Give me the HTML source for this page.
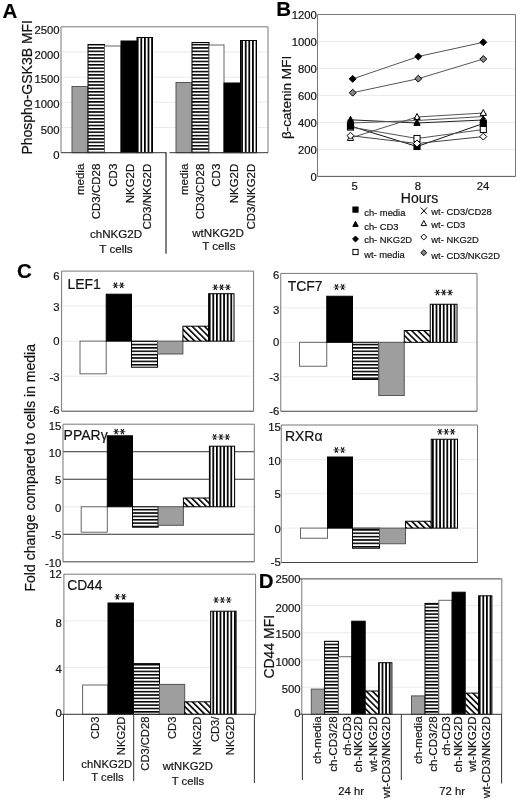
<!DOCTYPE html><html><head><meta charset="utf-8"><title>Figure</title><style>html,body{margin:0;padding:0;background:#fff;overflow:hidden;width:520px;height:803px;}svg{display:block;will-change:transform;}text{font-family:"Liberation Sans",sans-serif;stroke:#1a1a1a;stroke-width:0.2px;}</style></head><body>
<svg width="520" height="803" viewBox="0 0 520 803">
<defs><pattern id="ph" patternUnits="userSpaceOnUse" width="8" height="3.37"><rect width="8" height="3.37" fill="#fff"/><rect y="0" width="8" height="1.55" fill="#000"/></pattern><pattern id="pv" patternUnits="userSpaceOnUse" width="3.6" height="8"><rect width="3.6" height="8" fill="#fff"/><rect x="0" width="1.75" height="8" fill="#000"/></pattern><pattern id="pd" patternUnits="userSpaceOnUse" width="4.35" height="4.35" patternTransform="rotate(-45)"><rect width="4.35" height="4.35" fill="#fff"/><rect x="0" width="1.6" height="4.35" fill="#000"/></pattern></defs>
<rect width="520" height="803" fill="#fff"/>
<text x="2.5" y="17.5" font-size="20.5" text-anchor="start" font-weight="bold" fill="#000" >A</text>
<line x1="61" y1="127.52" x2="268" y2="127.52" stroke="#ebebeb" stroke-width="1"/>
<line x1="61" y1="102.34" x2="268" y2="102.34" stroke="#ebebeb" stroke-width="1"/>
<line x1="61" y1="77.16" x2="268" y2="77.16" stroke="#ebebeb" stroke-width="1"/>
<line x1="61" y1="51.98" x2="268" y2="51.98" stroke="#ebebeb" stroke-width="1"/>
<line x1="61" y1="26.8" x2="268" y2="26.8" stroke="#777" stroke-width="1"/>
<line x1="268" y1="26.8" x2="268" y2="152.7" stroke="#777" stroke-width="1"/>
<line x1="61" y1="26.8" x2="61" y2="152.7" stroke="#777" stroke-width="1"/>
<rect x="72" y="86.5" width="16" height="66.2" fill="#9e9e9e" stroke="#555" stroke-width="1"/>
<rect x="88" y="44.5" width="16.5" height="108.2" fill="url(#ph)" stroke="#000" stroke-width="1"/>
<rect x="104.5" y="46" width="16.5" height="106.7" fill="#fff" stroke="#666" stroke-width="1"/>
<rect x="121" y="41" width="16" height="111.7" fill="#000" stroke="#000" stroke-width="1"/>
<rect x="137" y="37.5" width="15.5" height="115.2" fill="url(#pv)" stroke="#000" stroke-width="1"/>
<rect x="176" y="82.5" width="16" height="70.2" fill="#9e9e9e" stroke="#555" stroke-width="1"/>
<rect x="192" y="42.5" width="17" height="110.2" fill="url(#ph)" stroke="#000" stroke-width="1"/>
<rect x="209" y="45" width="15" height="107.7" fill="#fff" stroke="#666" stroke-width="1"/>
<rect x="224" y="83" width="16.5" height="69.7" fill="#000" stroke="#000" stroke-width="1"/>
<rect x="240.5" y="40.5" width="16" height="112.2" fill="url(#pv)" stroke="#000" stroke-width="1"/>
<line x1="61" y1="152.7" x2="166.5" y2="152.7" stroke="#333" stroke-width="1"/>
<line x1="169.5" y1="152.7" x2="268" y2="152.7" stroke="#333" stroke-width="1"/>
<line x1="166" y1="152.7" x2="166" y2="253.7" stroke="#000" stroke-width="1"/>
<text x="59.6" y="159.25" font-size="11.3" text-anchor="end" font-weight="normal" fill="#111" >0</text>
<text x="59.6" y="133.55" font-size="11.3" text-anchor="end" font-weight="normal" fill="#111" >500</text>
<text x="59.6" y="108.45" font-size="11.3" text-anchor="end" font-weight="normal" fill="#111" >1000</text>
<text x="59.6" y="82.85" font-size="11.3" text-anchor="end" font-weight="normal" fill="#111" >1500</text>
<text x="59.6" y="59.05" font-size="11.3" text-anchor="end" font-weight="normal" fill="#111" >2000</text>
<text x="59.6" y="34.45" font-size="11.3" text-anchor="end" font-weight="normal" fill="#111" >2500</text>
<text x="31.9" y="87.3" font-size="14" text-anchor="middle" fill="#111" transform="rotate(-90 31.9 87.3)">Phospho-GSK3B MFI</text>
<text x="84.4" y="163.7" font-size="11.5" text-anchor="end" fill="#111" transform="rotate(-90 84.4 163.7)">media</text>
<text x="99.9" y="163.7" font-size="11.5" text-anchor="end" fill="#111" transform="rotate(-90 99.9 163.7)">CD3/CD28</text>
<text x="116.9" y="163.7" font-size="11.5" text-anchor="end" fill="#111" transform="rotate(-90 116.9 163.7)">CD3</text>
<text x="133.7" y="163.7" font-size="11.5" text-anchor="end" fill="#111" transform="rotate(-90 133.7 163.7)">NKG2D</text>
<text x="150.9" y="163.7" font-size="11.5" text-anchor="end" fill="#111" transform="rotate(-90 150.9 163.7)">CD3/NKG2D</text>
<text x="188.2" y="163.7" font-size="11.5" text-anchor="end" fill="#111" transform="rotate(-90 188.2 163.7)">media</text>
<text x="204.1" y="163.7" font-size="11.5" text-anchor="end" fill="#111" transform="rotate(-90 204.1 163.7)">CD3/CD28</text>
<text x="219.9" y="163.7" font-size="11.5" text-anchor="end" fill="#111" transform="rotate(-90 219.9 163.7)">CD3</text>
<text x="238.4" y="163.7" font-size="11.5" text-anchor="end" fill="#111" transform="rotate(-90 238.4 163.7)">NKG2D</text>
<text x="254.9" y="163.7" font-size="11.5" text-anchor="end" fill="#111" transform="rotate(-90 254.9 163.7)">CD3/NKG2D</text>
<text x="116" y="238.4" font-size="11.6" text-anchor="middle" font-weight="normal" fill="#111" >chNKG2D</text>
<text x="116" y="252.6" font-size="11.6" text-anchor="middle" font-weight="normal" fill="#111" >T cells</text>
<text x="218" y="236.7" font-size="11.6" text-anchor="middle" font-weight="normal" fill="#111" >wtNKG2D</text>
<text x="218.8" y="250.4" font-size="11.6" text-anchor="middle" font-weight="normal" fill="#111" >T cells</text>
<text x="276.3" y="15.8" font-size="20.5" text-anchor="start" font-weight="bold" fill="#000" >B</text>
<line x1="317.5" y1="149.42" x2="515.5" y2="149.42" stroke="#ebebeb" stroke-width="1"/>
<line x1="317.5" y1="122.43" x2="515.5" y2="122.43" stroke="#ebebeb" stroke-width="1"/>
<line x1="317.5" y1="95.45" x2="515.5" y2="95.45" stroke="#ebebeb" stroke-width="1"/>
<line x1="317.5" y1="68.47" x2="515.5" y2="68.47" stroke="#ebebeb" stroke-width="1"/>
<line x1="317.5" y1="41.48" x2="515.5" y2="41.48" stroke="#ebebeb" stroke-width="1"/>
<line x1="317.5" y1="14.5" x2="515.5" y2="14.5" stroke="#777" stroke-width="1"/>
<line x1="515.5" y1="14.5" x2="515.5" y2="176.4" stroke="#777" stroke-width="1"/>
<line x1="317.5" y1="14.5" x2="317.5" y2="176.4" stroke="#777" stroke-width="1"/>
<line x1="317.5" y1="176.4" x2="515.5" y2="176.4" stroke="#555" stroke-width="1"/>
<text x="316.8" y="180.9" font-size="11.3" text-anchor="end" font-weight="normal" fill="#111" >0</text>
<text x="316.8" y="153.92" font-size="11.3" text-anchor="end" font-weight="normal" fill="#111" >200</text>
<text x="316.8" y="126.93" font-size="11.3" text-anchor="end" font-weight="normal" fill="#111" >400</text>
<text x="316.8" y="99.95" font-size="11.3" text-anchor="end" font-weight="normal" fill="#111" >600</text>
<text x="316.8" y="72.97" font-size="11.3" text-anchor="end" font-weight="normal" fill="#111" >800</text>
<text x="316.8" y="45.98" font-size="11.3" text-anchor="end" font-weight="normal" fill="#111" >1000</text>
<text x="316.8" y="19" font-size="11.3" text-anchor="end" font-weight="normal" fill="#111" >1200</text>
<text x="354.7" y="189.6" font-size="11.3" text-anchor="middle" font-weight="normal" fill="#111" >5</text>
<text x="417.9" y="189.6" font-size="11.3" text-anchor="middle" font-weight="normal" fill="#111" >8</text>
<text x="483.1" y="189.6" font-size="11.3" text-anchor="middle" font-weight="normal" fill="#111" >24</text>
<text x="419.5" y="202.7" font-size="14" text-anchor="middle" font-weight="normal" fill="#111" >Hours</text>
<text x="291.2" y="97.4" font-size="13.6" text-anchor="middle" fill="#111" transform="rotate(-90 291.2 97.4)">&#946;-catenin MFI</text>
<polyline points="350.5,126 417,146.5 483.3,123.5" fill="none" stroke="#111" stroke-width="1"/>
<polyline points="350.5,119.8 417,123 483.3,120" fill="none" stroke="#222" stroke-width="1"/>
<polyline points="352.7,78.9 418.3,56.5 483.3,42.3" fill="none" stroke="#555" stroke-width="1"/>
<polyline points="350.5,127 417,138.5 483.3,129.5" fill="none" stroke="#555" stroke-width="1"/>
<polyline points="350.5,123 417,120.5 483.3,116.5" fill="none" stroke="#555" stroke-width="1"/>
<polyline points="350.5,138 417,117 483.3,113" fill="none" stroke="#555" stroke-width="1"/>
<polyline points="350.5,135.7 417,143.5 483.3,136.6" fill="none" stroke="#444" stroke-width="1"/>
<polyline points="352.7,92.7 418.3,78.7 483.3,59" fill="none" stroke="#555" stroke-width="1"/>
<path d="M347.56 119.8 L353.44 126.2 M353.44 119.8 L347.56 126.2" stroke="#000" stroke-width="1" fill="none"/>
<rect x="347.45" y="123.95" width="6.1" height="6.1" fill="#fff" stroke="#000" stroke-width="1"/>
<rect x="347.45" y="122.95" width="6.1" height="6.1" fill="#000" stroke="#000" stroke-width="1"/>
<path d="M350.5 116.3 L353.65 122.25 L347.35 122.25 Z" fill="#000" stroke="#000" stroke-width="1"/>
<path d="M350.5 134.5 L353.65 140.45 L347.35 140.45 Z" fill="#fff" stroke="#000" stroke-width="1"/>
<path d="M350.5 132.25 L353.95 135.7 L350.5 139.15 L347.05 135.7 Z" fill="#fff" stroke="#000" stroke-width="1"/>
<path d="M352.7 75.45 L356.15 78.9 L352.7 82.35 L349.25 78.9 Z" fill="#000" stroke="#000" stroke-width="1"/>
<path d="M352.7 89.25 L356.15 92.7 L352.7 96.15 L349.25 92.7 Z" fill="#888" stroke="#000" stroke-width="1"/>
<rect x="413.95" y="143.45" width="6.1" height="6.1" fill="#000" stroke="#000" stroke-width="1"/>
<rect x="413.95" y="135.45" width="6.1" height="6.1" fill="#fff" stroke="#000" stroke-width="1"/>
<path d="M417 140.05 L420.45 143.5 L417 146.95 L413.55 143.5 Z" fill="#fff" stroke="#000" stroke-width="1"/>
<path d="M417 119.5 L420.15 125.45 L413.85 125.45 Z" fill="#000" stroke="#000" stroke-width="1"/>
<path d="M417 113.5 L420.15 119.45 L413.85 119.45 Z" fill="#fff" stroke="#000" stroke-width="1"/>
<path d="M414.06 117.3 L419.94 123.7 M419.94 117.3 L414.06 123.7" stroke="#000" stroke-width="1" fill="none"/>
<path d="M418.3 53.05 L421.75 56.5 L418.3 59.95 L414.85 56.5 Z" fill="#000" stroke="#000" stroke-width="1"/>
<path d="M418.3 75.25 L421.75 78.7 L418.3 82.15 L414.85 78.7 Z" fill="#888" stroke="#000" stroke-width="1"/>
<rect x="480.25" y="120.45" width="6.1" height="6.1" fill="#000" stroke="#000" stroke-width="1"/>
<path d="M483.3 116.5 L486.45 122.45 L480.15 122.45 Z" fill="#000" stroke="#000" stroke-width="1"/>
<path d="M480.36 113.3 L486.24 119.7 M486.24 113.3 L480.36 119.7" stroke="#000" stroke-width="1" fill="none"/>
<path d="M483.3 109.5 L486.45 115.45 L480.15 115.45 Z" fill="#fff" stroke="#000" stroke-width="1"/>
<rect x="480.25" y="126.45" width="6.1" height="6.1" fill="#fff" stroke="#000" stroke-width="1"/>
<path d="M483.3 133.15 L486.75 136.6 L483.3 140.05 L479.85 136.6 Z" fill="#fff" stroke="#000" stroke-width="1"/>
<path d="M483.3 38.85 L486.75 42.3 L483.3 45.75 L479.85 42.3 Z" fill="#000" stroke="#000" stroke-width="1"/>
<path d="M483.3 55.55 L486.75 59 L483.3 62.45 L479.85 59 Z" fill="#888" stroke="#000" stroke-width="1"/>
<rect x="352.91" y="207.01" width="5.18" height="5.18" fill="#000" stroke="#000" stroke-width="1"/>
<text x="364.2" y="215.7" font-size="9.4" text-anchor="start" font-weight="normal" fill="#111" >ch- media</text>
<path d="M355.5 221.33 L358.18 226.38 L352.82 226.38 Z" fill="#000" stroke="#000" stroke-width="1"/>
<text x="364.2" y="229.5" font-size="9.4" text-anchor="start" font-weight="normal" fill="#111" >ch- CD3</text>
<path d="M355.5 236.07 L358.43 239 L355.5 241.93 L352.57 239 Z" fill="#000" stroke="#000" stroke-width="1"/>
<text x="364.2" y="243" font-size="9.4" text-anchor="start" font-weight="normal" fill="#111" >ch- NKG2D</text>
<rect x="352.91" y="249.41" width="5.18" height="5.18" fill="#fff" stroke="#000" stroke-width="1"/>
<text x="364.2" y="258" font-size="9.4" text-anchor="start" font-weight="normal" fill="#111" >wt- media</text>
<path d="M420.81 207.54 L426.99 214.26 M426.99 207.54 L420.81 214.26" stroke="#000" stroke-width="1" fill="none"/>
<text x="431.3" y="214.6" font-size="9.4" text-anchor="start" font-weight="normal" fill="#111" >wt- CD3/CD28</text>
<path d="M423.8 220.53 L426.48 225.58 L421.12 225.58 Z" fill="#fff" stroke="#000" stroke-width="1"/>
<text x="431.3" y="227.7" font-size="9.4" text-anchor="start" font-weight="normal" fill="#111" >wt- CD3</text>
<path d="M423.8 234.07 L426.73 237 L423.8 239.93 L420.87 237 Z" fill="#fff" stroke="#000" stroke-width="1"/>
<text x="431.3" y="243" font-size="9.4" text-anchor="start" font-weight="normal" fill="#111" >wt- NKG2D</text>
<path d="M423.8 249.77 L426.73 252.7 L423.8 255.63 L420.87 252.7 Z" fill="#888" stroke="#000" stroke-width="1"/>
<text x="431.3" y="258.5" font-size="9.4" text-anchor="start" font-weight="normal" fill="#111" >wt- CD3/NKG2D</text>
<text x="16.9" y="277.5" font-size="20.5" text-anchor="start" font-weight="bold" fill="#000" >C</text>
<text x="34.6" y="467.75" font-size="14" text-anchor="middle" fill="#111" transform="rotate(-90 34.6 467.75)">Fold change compared to cells in media</text>
<line x1="61.6" y1="306.12" x2="253.6" y2="306.12" stroke="#ebebeb" stroke-width="1"/>
<line x1="61.6" y1="341.15" x2="253.6" y2="341.15" stroke="#ebebeb" stroke-width="1"/>
<line x1="61.6" y1="376.18" x2="253.6" y2="376.18" stroke="#ebebeb" stroke-width="1"/>
<line x1="61.6" y1="271.1" x2="253.6" y2="271.1" stroke="#777" stroke-width="1"/>
<line x1="253.6" y1="271.1" x2="253.6" y2="411.2" stroke="#777" stroke-width="1"/>
<line x1="61.6" y1="271.1" x2="61.6" y2="411.2" stroke="#777" stroke-width="1"/>
<line x1="61.6" y1="411.2" x2="253.6" y2="411.2" stroke="#444" stroke-width="1"/>
<rect x="80" y="341.15" width="26.2" height="32.65" fill="#fff" stroke="#666" stroke-width="1"/>
<rect x="106.2" y="294.2" width="25.3" height="46.95" fill="#000" stroke="#000" stroke-width="1"/>
<rect x="131.5" y="341.15" width="26" height="26.05" fill="url(#ph)" stroke="#000" stroke-width="1"/>
<rect x="157.5" y="341.15" width="25.4" height="12.85" fill="#9e9e9e" stroke="#555" stroke-width="1"/>
<rect x="182.9" y="326.2" width="25.7" height="14.95" fill="url(#pd)" stroke="#000" stroke-width="1"/>
<rect x="208.6" y="293.7" width="25.4" height="47.45" fill="url(#pv)" stroke="#000" stroke-width="1"/>
<text x="59.6" y="279.8" font-size="11.3" text-anchor="end" font-weight="normal" fill="#111" >6</text>
<text x="59.6" y="310.5" font-size="11.3" text-anchor="end" font-weight="normal" fill="#111" >3</text>
<text x="59.6" y="345.1" font-size="11.3" text-anchor="end" font-weight="normal" fill="#111" >0</text>
<text x="59.6" y="380.9" font-size="11.3" text-anchor="end" font-weight="normal" fill="#111" >-3</text>
<text x="59.6" y="414.4" font-size="11.3" text-anchor="end" font-weight="normal" fill="#111" >-6</text>
<text x="67.4" y="288.8" font-size="14" text-anchor="start" font-weight="normal" fill="#111" >LEF1</text>
<path d="M112.55 285.3L118.35 285.3M118.85 285.3L124.65 285.3" stroke="#444" stroke-width="0.9" fill="none"/>
<path d="M114 282.63L116.9 287.97M116.9 282.63L114 287.97M120.3 282.63L123.2 287.97M123.2 282.63L120.3 287.97" stroke="#1a1a1a" stroke-width="1.15" fill="none"/>
<path d="M212.4 287.3L218.2 287.3M218.7 287.3L224.5 287.3M225 287.3L230.8 287.3" stroke="#444" stroke-width="0.9" fill="none"/>
<path d="M213.85 284.63L216.75 289.97M216.75 284.63L213.85 289.97M220.15 284.63L223.05 289.97M223.05 284.63L220.15 289.97M226.45 284.63L229.35 289.97M229.35 284.63L226.45 289.97" stroke="#1a1a1a" stroke-width="1.15" fill="none"/>
<line x1="280.75" y1="307.86" x2="477" y2="307.86" stroke="#ebebeb" stroke-width="1"/>
<line x1="280.75" y1="342.32" x2="477" y2="342.32" stroke="#ebebeb" stroke-width="1"/>
<line x1="280.75" y1="376.79" x2="477" y2="376.79" stroke="#ebebeb" stroke-width="1"/>
<line x1="280.75" y1="273.4" x2="477" y2="273.4" stroke="#777" stroke-width="1"/>
<line x1="477" y1="273.4" x2="477" y2="411.25" stroke="#777" stroke-width="1"/>
<line x1="280.75" y1="273.4" x2="280.75" y2="411.25" stroke="#777" stroke-width="1"/>
<line x1="280.75" y1="411.25" x2="477" y2="411.25" stroke="#444" stroke-width="1"/>
<rect x="299.5" y="342.32" width="27.25" height="23.93" fill="#fff" stroke="#666" stroke-width="1"/>
<rect x="326.75" y="296.25" width="25.75" height="46.07" fill="#000" stroke="#000" stroke-width="1"/>
<rect x="352.5" y="342.32" width="26.25" height="37.18" fill="url(#ph)" stroke="#000" stroke-width="1"/>
<rect x="378.75" y="342.32" width="25.5" height="53.18" fill="#9e9e9e" stroke="#555" stroke-width="1"/>
<rect x="404.25" y="330.5" width="26" height="11.82" fill="url(#pd)" stroke="#000" stroke-width="1"/>
<rect x="430.25" y="304.25" width="26.75" height="38.07" fill="url(#pv)" stroke="#000" stroke-width="1"/>
<text x="279.4" y="278.7" font-size="11.3" text-anchor="end" font-weight="normal" fill="#111" >6</text>
<text x="279.4" y="314" font-size="11.3" text-anchor="end" font-weight="normal" fill="#111" >3</text>
<text x="279.4" y="346.4" font-size="11.3" text-anchor="end" font-weight="normal" fill="#111" >0</text>
<text x="279.4" y="381.4" font-size="11.3" text-anchor="end" font-weight="normal" fill="#111" >-3</text>
<text x="279.4" y="415.1" font-size="11.3" text-anchor="end" font-weight="normal" fill="#111" >-6</text>
<text x="287.65" y="291.25" font-size="14" text-anchor="start" font-weight="normal" fill="#111" >TCF7</text>
<path d="M333.55 287L339.35 287M339.85 287L345.65 287" stroke="#444" stroke-width="0.9" fill="none"/>
<path d="M335 284.33L337.9 289.67M337.9 284.33L335 289.67M341.3 284.33L344.2 289.67M344.2 284.33L341.3 289.67" stroke="#1a1a1a" stroke-width="1.15" fill="none"/>
<path d="M434.55 292.5L440.35 292.5M440.85 292.5L446.65 292.5M447.15 292.5L452.95 292.5" stroke="#444" stroke-width="0.9" fill="none"/>
<path d="M436 289.83L438.9 295.17M438.9 289.83L436 295.17M442.3 289.83L445.2 295.17M445.2 289.83L442.3 295.17M448.6 289.83L451.5 295.17M451.5 289.83L448.6 295.17" stroke="#1a1a1a" stroke-width="1.15" fill="none"/>
<line x1="63" y1="506.76" x2="254.3" y2="506.76" stroke="#ebebeb" stroke-width="1"/>
<line x1="63" y1="451.72" x2="254.3" y2="451.72" stroke="#333" stroke-width="1"/>
<line x1="63" y1="479.24" x2="254.3" y2="479.24" stroke="#333" stroke-width="1"/>
<line x1="63" y1="534.28" x2="254.3" y2="534.28" stroke="#333" stroke-width="1"/>
<line x1="63" y1="424.2" x2="254.3" y2="424.2" stroke="#777" stroke-width="1"/>
<line x1="254.3" y1="424.2" x2="254.3" y2="561.8" stroke="#777" stroke-width="1"/>
<line x1="63" y1="424.2" x2="63" y2="561.8" stroke="#777" stroke-width="1"/>
<line x1="63" y1="561.8" x2="254.3" y2="561.8" stroke="#444" stroke-width="1"/>
<rect x="81.2" y="506.76" width="26.1" height="25.44" fill="#fff" stroke="#666" stroke-width="1"/>
<rect x="107.3" y="435.8" width="25.2" height="70.96" fill="#000" stroke="#000" stroke-width="1"/>
<rect x="132.5" y="506.76" width="25.7" height="20.44" fill="url(#ph)" stroke="#000" stroke-width="1"/>
<rect x="158.2" y="506.76" width="25.2" height="18.54" fill="#9e9e9e" stroke="#555" stroke-width="1"/>
<rect x="183.4" y="498" width="26" height="8.76" fill="url(#pd)" stroke="#000" stroke-width="1"/>
<rect x="209.4" y="446.2" width="25.2" height="60.56" fill="url(#pv)" stroke="#000" stroke-width="1"/>
<text x="61.3" y="429.5" font-size="11.3" text-anchor="end" font-weight="normal" fill="#111" >15</text>
<text x="61.3" y="457.1" font-size="11.3" text-anchor="end" font-weight="normal" fill="#111" >10</text>
<text x="61.3" y="483.7" font-size="11.3" text-anchor="end" font-weight="normal" fill="#111" >5</text>
<text x="61.3" y="511.8" font-size="11.3" text-anchor="end" font-weight="normal" fill="#111" >0</text>
<text x="61.3" y="539.1" font-size="11.3" text-anchor="end" font-weight="normal" fill="#111" >-5</text>
<text x="61.3" y="566.7" font-size="11.3" text-anchor="end" font-weight="normal" fill="#111" >-10</text>
<text x="63.6" y="440" font-size="14" text-anchor="start" font-weight="normal" fill="#111" >PPAR&#947;</text>
<path d="M113.25 431.6L119.05 431.6M119.55 431.6L125.35 431.6" stroke="#444" stroke-width="0.9" fill="none"/>
<path d="M114.7 428.93L117.6 434.27M117.6 428.93L114.7 434.27M121 428.93L123.9 434.27M123.9 428.93L121 434.27" stroke="#1a1a1a" stroke-width="1.15" fill="none"/>
<path d="M211.8 437L217.6 437M218.1 437L223.9 437M224.4 437L230.2 437" stroke="#444" stroke-width="0.9" fill="none"/>
<path d="M213.25 434.33L216.15 439.67M216.15 434.33L213.25 439.67M219.55 434.33L222.45 439.67M222.45 434.33L219.55 439.67M225.85 434.33L228.75 439.67M228.75 434.33L225.85 439.67" stroke="#1a1a1a" stroke-width="1.15" fill="none"/>
<line x1="281.25" y1="459.38" x2="477.5" y2="459.38" stroke="#ebebeb" stroke-width="1"/>
<line x1="281.25" y1="493.75" x2="477.5" y2="493.75" stroke="#ebebeb" stroke-width="1"/>
<line x1="281.25" y1="528.12" x2="477.5" y2="528.12" stroke="#ebebeb" stroke-width="1"/>
<line x1="281.25" y1="425" x2="477.5" y2="425" stroke="#777" stroke-width="1"/>
<line x1="477.5" y1="425" x2="477.5" y2="562.5" stroke="#777" stroke-width="1"/>
<line x1="281.25" y1="425" x2="281.25" y2="562.5" stroke="#777" stroke-width="1"/>
<line x1="281.25" y1="562.5" x2="477.5" y2="562.5" stroke="#444" stroke-width="1"/>
<rect x="300.5" y="528.12" width="27" height="10.12" fill="#fff" stroke="#666" stroke-width="1"/>
<rect x="327.5" y="457" width="25" height="71.12" fill="#000" stroke="#000" stroke-width="1"/>
<rect x="352.5" y="528.12" width="27" height="20.12" fill="url(#ph)" stroke="#000" stroke-width="1"/>
<rect x="379.5" y="528.12" width="26" height="15.62" fill="#9e9e9e" stroke="#555" stroke-width="1"/>
<rect x="405.5" y="521.25" width="25.75" height="6.88" fill="url(#pd)" stroke="#000" stroke-width="1"/>
<rect x="431.25" y="439.25" width="26.25" height="88.88" fill="url(#pv)" stroke="#000" stroke-width="1"/>
<text x="280.9" y="430.7" font-size="11.3" text-anchor="end" font-weight="normal" fill="#111" >15</text>
<text x="280.9" y="465.2" font-size="11.3" text-anchor="end" font-weight="normal" fill="#111" >10</text>
<text x="280.9" y="498.2" font-size="11.3" text-anchor="end" font-weight="normal" fill="#111" >5</text>
<text x="280.9" y="532.7" font-size="11.3" text-anchor="end" font-weight="normal" fill="#111" >0</text>
<text x="280.9" y="565.7" font-size="11.3" text-anchor="end" font-weight="normal" fill="#111" >-5</text>
<text x="284.9" y="440.75" font-size="14" text-anchor="start" font-weight="normal" fill="#111" >RXR&#945;</text>
<path d="M333.45 450L339.25 450M339.75 450L345.55 450" stroke="#444" stroke-width="0.9" fill="none"/>
<path d="M334.9 447.33L337.8 452.67M337.8 447.33L334.9 452.67M341.2 447.33L344.1 452.67M344.1 447.33L341.2 452.67" stroke="#1a1a1a" stroke-width="1.15" fill="none"/>
<path d="M437.05 431.75L442.85 431.75M443.35 431.75L449.15 431.75M449.65 431.75L455.45 431.75" stroke="#444" stroke-width="0.9" fill="none"/>
<path d="M438.5 429.08L441.4 434.42M441.4 429.08L438.5 434.42M444.8 429.08L447.7 434.42M447.7 429.08L444.8 434.42M451.1 429.08L454 434.42M454 429.08L451.1 434.42" stroke="#1a1a1a" stroke-width="1.15" fill="none"/>
<line x1="63.9" y1="620.9" x2="255.6" y2="620.9" stroke="#ebebeb" stroke-width="1"/>
<line x1="63.9" y1="667.6" x2="255.6" y2="667.6" stroke="#ebebeb" stroke-width="1"/>
<line x1="63.9" y1="574.2" x2="255.6" y2="574.2" stroke="#777" stroke-width="1"/>
<line x1="255.6" y1="574.2" x2="255.6" y2="714.3" stroke="#777" stroke-width="1"/>
<line x1="63.9" y1="574.2" x2="63.9" y2="714.3" stroke="#777" stroke-width="1"/>
<rect x="82.6" y="685" width="25.4" height="29.3" fill="#fff" stroke="#666" stroke-width="1"/>
<rect x="108" y="603" width="25.4" height="111.3" fill="#000" stroke="#000" stroke-width="1"/>
<rect x="133.4" y="663.6" width="26.1" height="50.7" fill="url(#ph)" stroke="#000" stroke-width="1"/>
<rect x="159.5" y="684.4" width="25.2" height="29.9" fill="#9e9e9e" stroke="#555" stroke-width="1"/>
<rect x="184.7" y="701.8" width="26" height="12.5" fill="url(#pd)" stroke="#000" stroke-width="1"/>
<rect x="210.7" y="611.2" width="25.4" height="103.1" fill="url(#pv)" stroke="#000" stroke-width="1"/>
<line x1="60.9" y1="714.3" x2="255.6" y2="714.3" stroke="#333" stroke-width="1"/>
<line x1="63.5" y1="714.3" x2="63.5" y2="781" stroke="#333" stroke-width="1"/>
<line x1="133.7" y1="714.3" x2="133.7" y2="781" stroke="#333" stroke-width="1"/>
<line x1="254.4" y1="714.3" x2="254.4" y2="783" stroke="#333" stroke-width="1"/>
<text x="61.9" y="577.9" font-size="11.3" text-anchor="end" font-weight="normal" fill="#111" >12</text>
<text x="61.9" y="627" font-size="11.3" text-anchor="end" font-weight="normal" fill="#111" >8</text>
<text x="61.9" y="673.2" font-size="11.3" text-anchor="end" font-weight="normal" fill="#111" >4</text>
<text x="61.9" y="717.1" font-size="11.3" text-anchor="end" font-weight="normal" fill="#111" >0</text>
<text x="67.2" y="590.4" font-size="13.8" text-anchor="start" font-weight="normal" fill="#111" >CD44</text>
<path d="M114.45 596.8L120.25 596.8M120.75 596.8L126.55 596.8" stroke="#444" stroke-width="0.9" fill="none"/>
<path d="M115.9 594.13L118.8 599.47M118.8 594.13L115.9 599.47M122.2 594.13L125.1 599.47M125.1 594.13L122.2 599.47" stroke="#1a1a1a" stroke-width="1.15" fill="none"/>
<path d="M213.2 600L219 600M219.5 600L225.3 600M225.8 600L231.6 600" stroke="#444" stroke-width="0.9" fill="none"/>
<path d="M214.65 597.33L217.55 602.67M217.55 597.33L214.65 602.67M220.95 597.33L223.85 602.67M223.85 597.33L220.95 602.67M227.25 597.33L230.15 602.67M230.15 597.33L227.25 602.67" stroke="#1a1a1a" stroke-width="1.15" fill="none"/>
<text x="99" y="716.6" font-size="11.2" text-anchor="end" fill="#111" transform="rotate(-90 99 716.6)">CD3</text>
<text x="124.8" y="716.6" font-size="11.2" text-anchor="end" fill="#111" transform="rotate(-90 124.8 716.6)">NKG2D</text>
<text x="149.3" y="716.6" font-size="11.2" text-anchor="end" fill="#111" transform="rotate(-90 149.3 716.6)">CD3/CD28</text>
<text x="175.7" y="716.6" font-size="11.2" text-anchor="end" fill="#111" transform="rotate(-90 175.7 716.6)">CD3</text>
<text x="200.7" y="716.6" font-size="11.2" text-anchor="end" fill="#111" transform="rotate(-90 200.7 716.6)">NKG2D</text>
<text x="219.1" y="716.6" font-size="11.2" text-anchor="end" fill="#111" transform="rotate(-90 219.1 716.6)">CD3/</text>
<text x="233.9" y="716.6" font-size="11.2" text-anchor="end" fill="#111" transform="rotate(-90 233.9 716.6)">NKG2D</text>
<text x="106.8" y="768.2" font-size="11.3" text-anchor="middle" font-weight="normal" fill="#111" >chNKG2D</text>
<text x="107.4" y="781.4" font-size="11.3" text-anchor="middle" font-weight="normal" fill="#111" >T cells</text>
<text x="187.8" y="769.5" font-size="11.3" text-anchor="middle" font-weight="normal" fill="#111" >wtNKG2D</text>
<text x="188" y="785" font-size="11.3" text-anchor="middle" font-weight="normal" fill="#111" >T cells</text>
<text x="258.7" y="587.6" font-size="20.5" text-anchor="start" font-weight="bold" fill="#000" >D</text>
<line x1="301.8" y1="605.66" x2="501.8" y2="605.66" stroke="#ebebeb" stroke-width="1"/>
<line x1="301.8" y1="632.82" x2="501.8" y2="632.82" stroke="#ebebeb" stroke-width="1"/>
<line x1="301.8" y1="659.98" x2="501.8" y2="659.98" stroke="#ebebeb" stroke-width="1"/>
<line x1="301.8" y1="687.14" x2="501.8" y2="687.14" stroke="#ebebeb" stroke-width="1"/>
<line x1="299.3" y1="578.9" x2="501.8" y2="578.9" stroke="#444" stroke-width="1"/>
<line x1="299.3" y1="714.3" x2="301.8" y2="714.3" stroke="#444" stroke-width="1"/>
<line x1="501.8" y1="578.9" x2="501.8" y2="714.3" stroke="#777" stroke-width="1"/>
<line x1="301.8" y1="578.9" x2="301.8" y2="714.3" stroke="#777" stroke-width="1"/>
<rect x="311.3" y="689.1" width="13.3" height="25.2" fill="#9e9e9e" stroke="#555" stroke-width="1"/>
<rect x="411.5" y="695.9" width="13.5" height="18.4" fill="#9e9e9e" stroke="#555" stroke-width="1"/>
<rect x="324.6" y="641.3" width="13.8" height="73" fill="url(#ph)" stroke="#000" stroke-width="1"/>
<rect x="425" y="603.4" width="13.8" height="110.9" fill="url(#ph)" stroke="#000" stroke-width="1"/>
<rect x="338.4" y="656.7" width="13.3" height="57.6" fill="#fff" stroke="#666" stroke-width="1"/>
<rect x="438.8" y="600.3" width="13.3" height="114" fill="#fff" stroke="#666" stroke-width="1"/>
<rect x="351.7" y="621.2" width="13.5" height="93.1" fill="#000" stroke="#000" stroke-width="1"/>
<rect x="452.1" y="592.2" width="13.1" height="122.1" fill="#000" stroke="#000" stroke-width="1"/>
<rect x="365.2" y="691" width="13.4" height="23.3" fill="url(#pd)" stroke="#000" stroke-width="1"/>
<rect x="465.2" y="693.1" width="13.4" height="21.2" fill="url(#pd)" stroke="#000" stroke-width="1"/>
<rect x="378.6" y="662.7" width="13.3" height="51.6" fill="url(#pv)" stroke="#000" stroke-width="1"/>
<rect x="478.6" y="595.8" width="13.3" height="118.5" fill="url(#pv)" stroke="#000" stroke-width="1"/>
<line x1="301.8" y1="714.3" x2="501.8" y2="714.3" stroke="#333" stroke-width="1"/>
<line x1="302.4" y1="714.3" x2="302.4" y2="780" stroke="#333" stroke-width="1"/>
<line x1="401.3" y1="714.3" x2="401.3" y2="780" stroke="#333" stroke-width="1"/>
<line x1="501.6" y1="714.3" x2="501.6" y2="783.5" stroke="#333" stroke-width="1"/>
<text x="300.6" y="583.2" font-size="11.3" text-anchor="end" font-weight="normal" fill="#111" >2500</text>
<text x="300.6" y="612.1" font-size="11.3" text-anchor="end" font-weight="normal" fill="#111" >2000</text>
<text x="300.6" y="638.4" font-size="11.3" text-anchor="end" font-weight="normal" fill="#111" >1500</text>
<text x="300.6" y="665.6" font-size="11.3" text-anchor="end" font-weight="normal" fill="#111" >1000</text>
<text x="300.6" y="693.1" font-size="11.3" text-anchor="end" font-weight="normal" fill="#111" >500</text>
<text x="300.6" y="717" font-size="11.3" text-anchor="end" font-weight="normal" fill="#111" >0</text>
<text x="274.4" y="646.7" font-size="14" text-anchor="middle" fill="#111" transform="rotate(-90 274.4 646.7)">CD44 MFI</text>
<text x="321.2" y="716.4" font-size="11.6" text-anchor="end" fill="#111" transform="rotate(-90 321.2 716.4)">ch-media</text>
<text x="336.7" y="716.4" font-size="11.6" text-anchor="end" fill="#111" transform="rotate(-90 336.7 716.4)">ch-CD3/28</text>
<text x="350.8" y="716.4" font-size="11.6" text-anchor="end" fill="#111" transform="rotate(-90 350.8 716.4)">ch-CD3</text>
<text x="362.5" y="716.4" font-size="11.6" text-anchor="end" fill="#111" transform="rotate(-90 362.5 716.4)">ch-NKG2D</text>
<text x="377.3" y="716.4" font-size="11.6" text-anchor="end" fill="#111" transform="rotate(-90 377.3 716.4)">wt-NKG2D</text>
<text x="390.4" y="716.4" font-size="11.6" text-anchor="end" fill="#111" transform="rotate(-90 390.4 716.4)">wt-CD3/NKG2D</text>
<text x="422.1" y="716.4" font-size="11.6" text-anchor="end" fill="#111" transform="rotate(-90 422.1 716.4)">ch-media</text>
<text x="437.1" y="716.4" font-size="11.6" text-anchor="end" fill="#111" transform="rotate(-90 437.1 716.4)">ch-CD3/28</text>
<text x="450.2" y="716.4" font-size="11.6" text-anchor="end" fill="#111" transform="rotate(-90 450.2 716.4)">ch-CD3</text>
<text x="462.5" y="716.4" font-size="11.6" text-anchor="end" fill="#111" transform="rotate(-90 462.5 716.4)">ch-NKG2D</text>
<text x="476.3" y="716.4" font-size="11.6" text-anchor="end" fill="#111" transform="rotate(-90 476.3 716.4)">wt-NKG2D</text>
<text x="490.2" y="716.4" font-size="11.6" text-anchor="end" fill="#111" transform="rotate(-90 490.2 716.4)">wt-CD3/NKG2D</text>
<text x="351.1" y="794.6" font-size="11.3" text-anchor="middle" font-weight="normal" fill="#111" >24 hr</text>
<text x="452.1" y="794.6" font-size="11.3" text-anchor="middle" font-weight="normal" fill="#111" >72 hr</text>
</svg></body></html>
